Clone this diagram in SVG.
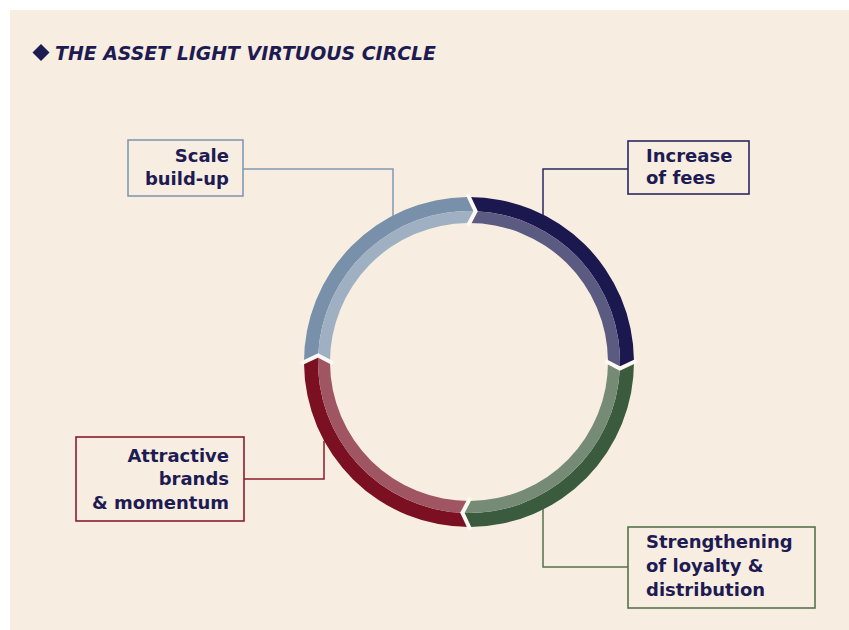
<svg xmlns="http://www.w3.org/2000/svg" width="849" height="630" viewBox="0 0 849 630">
<style>
.t{font-family:"DejaVu Sans","Liberation Sans",sans-serif;font-weight:bold;font-size:18px;fill:#1e1b53}
.r{text-anchor:end}
.box{fill:none;stroke-width:1.6}
.ln{fill:none;stroke-width:1.5}
.gap{fill:none;stroke:#fdf8f1;stroke-width:4;stroke-linejoin:miter}
</style>
<rect x="0" y="0" width="849" height="630" fill="#ffffff"/>
<rect x="10" y="10" width="839" height="620" fill="#f7eee1"/>
<g id="title">
<polygon points="41,44 49.5,52.5 41,61 32.5,52.5" fill="#1e1b53"/>
<text x="55" y="60" font-family="DejaVu Sans, Liberation Sans, sans-serif" font-weight="bold" font-style="italic" font-size="19" fill="#1e1b53" textLength="381" lengthAdjust="spacingAndGlyphs">THE ASSET LIGHT VIRTUOUS CIRCLE</text>
</g>
<g id="ring">
<g id="seg-fees">
<path d="M467.56,197.01 A165,165 0 0 1 633.99,360.56 L619.86,368.59 A151,151 0 0 0 475.59,211.14 Z" fill="#1b1850"/>
<path d="M475.59,211.14 A151,151 0 0 1 619.86,368.59 L607.99,360.79 A139,139 0 0 0 467.79,223.01 Z" fill="#5b5a80"/>
</g>
<g id="seg-loyalty">
<path d="M633.99,360.56 A165,165 0 0 1 470.44,526.99 L462.41,512.86 A151,151 0 0 0 619.86,368.59 Z" fill="#3b5b3e"/>
<path d="M619.86,368.59 A151,151 0 0 1 462.41,512.86 L470.21,500.99 A139,139 0 0 0 607.99,360.79 Z" fill="#768b76"/>
</g>
<g id="seg-brands">
<path d="M470.44,526.99 A165,165 0 0 1 304.01,363.44 L318.14,355.41 A151,151 0 0 0 462.41,512.86 Z" fill="#7b1022"/>
<path d="M462.41,512.86 A151,151 0 0 1 318.14,355.41 L330.01,363.21 A139,139 0 0 0 470.21,500.99 Z" fill="#a05662"/>
</g>
<g id="seg-scale">
<path d="M304.01,363.44 A165,165 0 0 1 467.56,197.01 L475.59,211.14 A151,151 0 0 0 318.14,355.41 Z" fill="#7890a9"/>
<path d="M318.14,355.41 A151,151 0 0 1 475.59,211.14 L467.79,223.01 A139,139 0 0 0 330.01,363.21 Z" fill="#9fb0c3"/>
</g>
<polyline class="gap" points="467.53,194.01 475.59,211.14 467.81,226.01"/>
<polyline class="gap" points="636.99,360.53 619.86,368.59 604.99,360.81"/>
<polyline class="gap" points="470.47,529.99 462.41,512.86 470.19,497.99"/>
<polyline class="gap" points="301.01,363.47 318.14,355.41 333.01,363.19"/>
</g>
<g id="connectors">
<polyline class="ln" stroke="#8299b3" points="243,169 393,169 393,216"/>
<polyline class="ln" stroke="#2a2860" points="628,169 543,169 543,215"/>
<polyline class="ln" stroke="#56724f" points="543,509 543,567 628,567"/>
<polyline class="ln" stroke="#8a1c2c" points="244,479 324,479 324,441"/>
</g>
<g id="node-scale">
<rect class="box" x="128" y="140" width="115" height="56" stroke="#8299b3"/>
<text class="t r" x="229" y="162">Scale</text>
<text class="t r" x="229" y="185">build-up</text>
</g>
<g id="node-fees">
<rect class="box" x="628" y="141" width="121" height="53" stroke="#2a2860"/>
<text class="t" x="646" y="162">Increase</text>
<text class="t" x="646" y="184">of fees</text>
</g>
<g id="node-loyalty">
<rect class="box" x="628" y="527" width="187" height="81" stroke="#56724f"/>
<text class="t" x="646" y="548">Strengthening</text>
<text class="t" x="646" y="572">of loyalty &amp;</text>
<text class="t" x="646" y="596">distribution</text>
</g>
<g id="node-brands">
<rect class="box" x="76" y="437" width="168" height="84" stroke="#8a1c2c"/>
<text class="t r" x="229" y="462">Attractive</text>
<text class="t r" x="229" y="485">brands</text>
<text class="t r" x="229" y="509">&amp; momentum</text>
</g>
</svg>
